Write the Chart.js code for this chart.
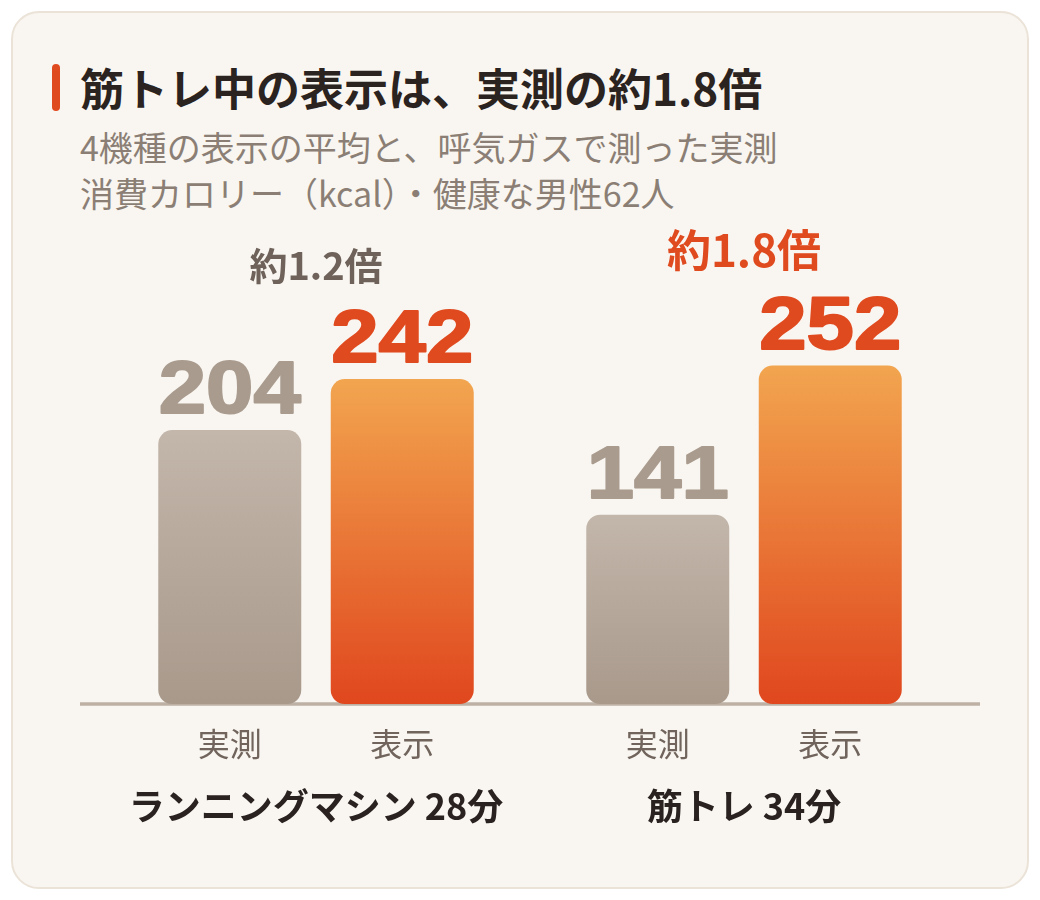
<!DOCTYPE html>
<html lang="ja">
<head>
<meta charset="utf-8">
<script src="https://cdn.jsdelivr.net/npm/chart.js@4.4.1/dist/chart.umd.min.js"></script>
<style>
  html, body { margin: 0; padding: 0; background: #ffffff; }
  body { width: 1040px; height: 900px; position: relative; font-family: "Noto Sans CJK JP", "Noto Sans", sans-serif; }
  .card { position: absolute; left: 11px; top: 11px; width: 1014px; height: 874px; border: 2px solid #ebe3d8; border-radius: 28px; background: #f9f6f1; }
  .accent { position: absolute; left: 52px; top: 64px; width: 8px; height: 47px; border-radius: 4px; background: #e04a1f; }
  .title { position: absolute; left: 80px; top: 61px; font-size: 44px; line-height: 52px; font-weight: 700; color: #2b2320; white-space: nowrap; }
  .sub { position: absolute; left: 80px; top: 124px; font-size: 34px; line-height: 46px; color: #8b7f75; white-space: nowrap; }
  .wrap { position: absolute; left: 0; top: 0; width: 1040px; height: 900px; }
</style>
</head>
<body>
<div class="card"></div>
<div class="accent"></div>
<div class="title">筋トレ中の表示は、実測の約1.8倍</div>
<div class="sub">4機種の表示の平均と、呼気ガスで測った実測<br>消費カロリー（kcal）・健康な男性62人</div>
<div class="wrap"><canvas id="chart"></canvas></div>
<script>
// data
const groups = ['ランニングマシン 28分', '筋トレ 34分'];
const seriesNames = ['実測', '表示'];
const measured = [204, 141];
const displayed = [242, 252];
const ratioLabels = ['約1.2倍', '約1.8倍'];
const yMax = 350;

// colours / sizes
const grayTop = '#c3b6aa', grayBottom = '#a8998b', grayText = '#a99b8e';
const orangeTop = '#f2a54f', orangeBottom = '#e0471e', orangeText = '#e04a1f';
const ratioColors = ['#6e625a', '#e04a1f'];
const ratioSizes = [38, 44];
const FONT = '"Noto Sans CJK JP", "Noto Sans", sans-serif';

function barGradient(ctx, top, bottom) {
    const chart = ctx.chart;
    if (!chart.chartArea || !chart.scales.y) return bottom;
    const y = chart.scales.y;
    const y1 = y.getPixelForValue(ctx.raw);
    const y0 = y.getPixelForValue(0);
    const g = chart.ctx.createLinearGradient(0, y1, 0, y0);
    g.addColorStop(0, top);
    g.addColorStop(1, bottom);
    return g;
}

const labelsPlugin = {
    id: 'labels',
    beforeDatasetsDraw(chart) {
        const c = chart.ctx;
        const y0 = chart.scales.y.getPixelForValue(0);
        c.save();
        c.strokeStyle = '#bdb1a5';
        c.lineWidth = 3.5;
        c.beginPath();
        c.moveTo(80, y0);
        c.lineTo(980, y0);
        c.stroke();
        c.restore();
    },
    afterDatasetsDraw(chart) {
        const c = chart.ctx;
        const y0 = chart.scales.y.getPixelForValue(0);
        const textCols = [grayText, orangeText];
        c.save();
        // value labels
        chart.data.datasets.forEach((ds, di) => {
            chart.getDatasetMeta(di).data.forEach((bar, i) => {
                c.save();
                c.translate(bar.x, bar.y - 17);
                c.scale(1.15, 1);
                c.font = 'bold 74px "Liberation Sans", Arial, sans-serif';
                c.textAlign = 'center';
                c.textBaseline = 'alphabetic';
                c.fillStyle = textCols[di];
                c.strokeStyle = textCols[di];
                c.lineWidth = 2;
                c.lineJoin = 'round';
                c.fillText(ds.data[i], 0, 0);
                c.strokeText(ds.data[i], 0, 0);
                c.restore();
                // series label under the bar
                c.font = '32px ' + FONT;
                c.textAlign = 'center';
                c.textBaseline = 'middle';
                c.fillStyle = '#70645c';
                c.fillText(seriesNames[di], bar.x, y0 + 40);
            });
        });
        // group labels and ratio labels
        const xs = chart.scales.x;
        groups.forEach((g, i) => {
            const cx = xs.getPixelForValue(i);
            c.font = 'bold 36px ' + FONT;
            c.textAlign = 'center';
            c.textBaseline = 'middle';
            c.fillStyle = '#2a2220';
            c.fillText(g, cx, y0 + 102);
            const top = chart.scales.y.getPixelForValue(Math.max(measured[i], displayed[i]));
            c.font = 'bold ' + ratioSizes[i] + 'px ' + FONT;
            c.textBaseline = 'alphabetic';
            c.fillStyle = ratioColors[i];
            c.fillText(ratioLabels[i], cx, top - 99);
        });
        c.restore();
    }
};

new Chart(document.getElementById('chart'), {
    type: 'bar',
    data: {
        labels: groups,
        datasets: [
            { label: seriesNames[0], data: measured, backgroundColor: ctx => barGradient(ctx, grayTop, grayBottom) },
            { label: seriesNames[1], data: displayed, backgroundColor: ctx => barGradient(ctx, orangeTop, orangeBottom) }
        ]
    },
    options: {
        responsive: true,
        maintainAspectRatio: false,
        animation: false,
        layout: { padding: { left: 102, right: 82, top: 234, bottom: 196 } },
        datasets: { bar: { categoryPercentage: 0.806, barPercentage: 0.829, borderRadius: 14, borderSkipped: false } },
        plugins: { legend: { display: false }, tooltip: { enabled: false } },
        scales: {
            x: { display: false },
            y: { display: false, min: 0, max: yMax }
        }
    },
    plugins: [labelsPlugin]
});
</script>
</body>
</html>
